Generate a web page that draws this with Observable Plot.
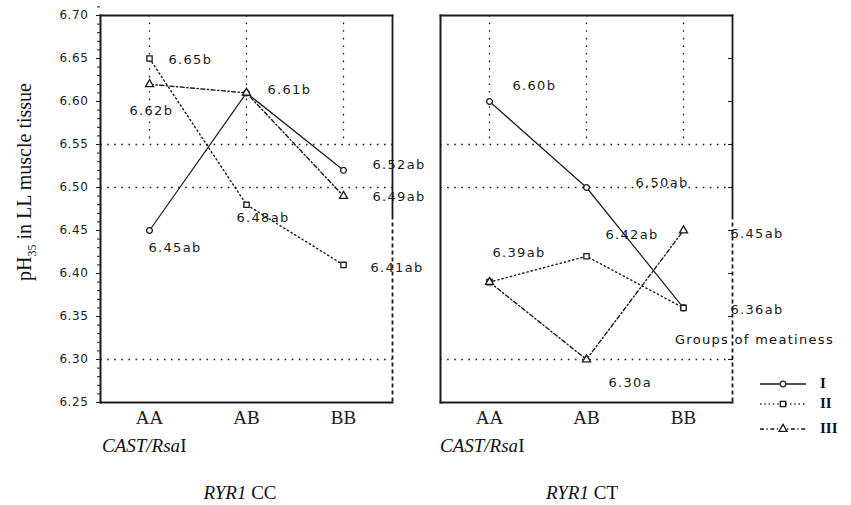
<!DOCTYPE html>
<html>
<head>
<meta charset="utf-8">
<script src="https://cdn.jsdelivr.net/npm/d3@7"></script>
<script src="https://cdn.jsdelivr.net/npm/@observablehq/plot@0.6"></script>
<style>
  body { margin: 0; background: #fff; }
  #wrap { position: relative; width: 851px; height: 505px; overflow: hidden; color: #111; font-family: "Liberation Serif", serif; }
  #chart { position: absolute; left: 0; top: 0; }
  .ser { position: absolute; font-family: "Liberation Serif", serif; font-size: 19px; line-height: 19px; white-space: nowrap; }
  .pix { position: absolute; font-family: "DejaVu Sans", sans-serif; letter-spacing: 1.3px; white-space: nowrap; }
  #chart g[aria-label="text"] text { letter-spacing: 1.3px; }
  #chart g[aria-label="y-axis tick label"] text { letter-spacing: 0.6px; }
  .leg { position: absolute; left: 758px; height: 14px; }
  .leg svg { position: absolute; left: 0; top: 0; }
  .leg span { position: absolute; left: 62px; top: -3px; font-family: "Liberation Serif", serif; font-weight: bold; font-size: 15px; line-height: 18px; }
</style>
</head>
<body>
<div id="wrap">
  <div id="chart"></div>
  <div id="ylab" class="ser" style="left:24px;top:182px;font-size:20px;line-height:22px;transform:translate(-50%,-50%) rotate(-90deg);">pH<sub style="font-size:12px;line-height:0">35</sub> in LL muscle tissue</div>
  <div class="ser" style="left:102px;top:436px;"><i>CAST/Rsa</i>I</div>
  <div class="ser" style="left:440px;top:436px;"><i>CAST/Rsa</i>I</div>
  <div class="ser" style="left:240px;top:483px;transform:translateX(-50%);"><i>RYR1</i> CC</div>
  <div class="ser" style="left:582px;top:483px;transform:translateX(-50%);"><i>RYR1</i> CT</div>
  <div class="pix" style="left:675px;top:332px;font-size:13px;">Groups of meatiness</div>
  <div id="legend"></div>
</div>
<script>
// ---- data ----
const genotypes = ["AA", "AB", "BB"];
const panels = ["CC", "CT"];
const groups = ["I", "II", "III"];

// pH35 means by CAST/RsaI genotype, RYR1 CC panel
const ccI   = [6.45, 6.61, 6.52];
const ccII  = [6.65, 6.48, 6.41];
const ccIII = [6.62, 6.61, 6.49];
// RYR1 CT panel
const ctI   = [6.60, 6.50, 6.36];
const ctII  = [6.39, 6.42, 6.36];
const ctIII = [6.39, 6.30, 6.45];

// significance letters (null = label shared with an overlapping point)
const ccIsig   = ["ab", "b", "ab"];
const ccIIsig  = ["b", "ab", "ab"];
const ccIIIsig = ["b", null, "ab"];
const ctIsig   = ["b", "ab", "ab"];
const ctIIsig  = ["ab", "ab", null];
const ctIIIsig = [null, "a", "ab"];

const yTicks = [6.70, 6.65, 6.60, 6.55, 6.50, 6.45, 6.40, 6.35, 6.30, 6.25];
const gridValues = [6.55, 6.50, 6.30];

// ---- build table ----
const series = {
  CC: {I: [ccI, ccIsig], II: [ccII, ccIIsig], III: [ccIII, ccIIIsig]},
  CT: {I: [ctI, ctIsig], II: [ctII, ctIIsig], III: [ctIII, ctIIIsig]}
};
const rows = [];
for (const p of panels) for (const g of groups) {
  const [vals, sig] = series[p][g];
  genotypes.forEach((gt, i) => rows.push({panel: p, group: g, genotype: gt, value: vals[i], sig: sig[i]}));
}

// label placement (pixel nudges relative to the point)
const nudge = {
  "CC I AA": [-1, 17],  "CC I AB": [21, -3],  "CC I BB": [29, -5],
  "CC II AA": [19, 1],  "CC II AB": [-10, 13], "CC II BB": [27, 3],
  "CC III AA": [-20, 27], "CC III BB": [29, 1],
  "CT I AA": [23, -16], "CT I AB": [49, -5], "CT I BB": [47, 2],
  "CT II AA": [3, -29], "CT II AB": [19, -21],
  "CT III AB": [22, 23], "CT III BB": [47, 3]
};

const lineStyle = {
  I:   {strokeDasharray: null, symbol: "circle", r: 2.9},
  II:  {strokeDasharray: "1.3,3", symbol: "square", r: 3.0},
  III: {strokeDasharray: "4,2.5,1.3,2.5", symbol: "triangle", r: 3.0}
};

const ink = "#1a1a1a";
const minorTicks = d3.range(625, 701).map(d => d / 100);

// right edge: solid top part, dotted lower part
const edgeDash = [203, 5];
while (edgeDash.reduce((a, b) => a + b, 0) < 420) edgeDash.push(2, 5);

const marks = [
  Plot.ruleY(gridValues, {stroke: ink, strokeWidth: 1.3, strokeDasharray: "1.6,5.5"}),
  Plot.ruleX(genotypes, {x: d => d, y1: 6.70, y2: 6.55, stroke: ink, strokeWidth: 1.3, strokeDasharray: "1.6,6"}),
  Plot.frame({anchor: "top", stroke: ink, strokeWidth: 2}),
  Plot.frame({anchor: "left", stroke: ink, strokeWidth: 2}),
  Plot.frame({anchor: "bottom", stroke: ink, strokeWidth: 2}),
  Plot.frame({anchor: "right", stroke: ink, strokeWidth: 1.8, strokeDasharray: edgeDash.join(",")}),
  Plot.axisY({ticks: yTicks, tickFormat: d => d.toFixed(2), tickSize: 4, tickPadding: 8,
              fontSize: 12, fontFamily: "DejaVu Sans", label: null}),
  Plot.axisY({ticks: minorTicks, tickFormat: () => "", tickSize: 3, label: null}),
  Plot.axisY({anchor: "right", ticks: yTicks, tickFormat: () => "", tickSize: 5, dx: -5, label: null}),
  Plot.axisX({tickSize: 0, tickPadding: 8, fontSize: 19, fontFamily: "Liberation Serif", label: null})
];

for (const g of groups) {
  const s = lineStyle[g];
  const data = rows.filter(d => d.group === g);
  marks.push(Plot.line(data, {fx: "panel", x: "genotype", y: "value", stroke: ink,
    strokeWidth: g === "I" ? 1.2 : 1.4, strokeDasharray: s.strokeDasharray}));
}
for (const g of groups) {
  const s = lineStyle[g];
  const data = rows.filter(d => d.group === g);
  marks.push(Plot.dot(data, {fx: "panel", x: "genotype", y: "value", symbol: () => s.symbol, r: s.r,
    stroke: ink, strokeWidth: 1.3, fill: "white"}));
}
for (const d of rows.filter(r => r.sig != null)) {
  const [dx, dy] = nudge[`${d.panel} ${d.group} ${d.genotype}`];
  marks.push(Plot.text([d], {fx: "panel", x: "genotype", y: "value",
    text: r => r.value.toFixed(2) + r.sig, dx, dy, textAnchor: "start",
    fontSize: 13, fontFamily: "DejaVu Sans", fill: ink}));
}

const chart = Plot.plot({
  width: 851,
  height: 430,
  marginLeft: 100,
  marginRight: 119,
  marginTop: 15,
  marginBottom: 28,
  style: {background: "transparent", overflow: "visible", fontFamily: "DejaVu Sans", fontSize: "12px", color: ink},
  fx: {domain: panels, axis: null, paddingInner: 0.1412, paddingOuter: 0, round: false},
  x: {type: "point", domain: genotypes, padding: 0.49},
  y: {domain: [6.25, 6.70], axis: null},
  marks
});
document.getElementById("chart").appendChild(chart);

// ---- legend ----
const legend = document.getElementById("legend");
const legendTops = {I: 377, II: 397, III: 422};
for (const g of groups) {
  const s = lineStyle[g];
  const sym = d3.symbol(g === "I" ? d3.symbolCircle : g === "II" ? d3.symbolSquare : d3.symbolTriangle, Math.PI * s.r * s.r)();
  const div = document.createElement("div");
  div.className = "leg";
  div.style.top = legendTops[g] + "px";
  div.innerHTML = `<svg width="50" height="14"><line x1="2" x2="48" y1="7" y2="7" stroke="${ink}" stroke-width="1.3" ${s.strokeDasharray ? `stroke-dasharray="${s.strokeDasharray}"` : ""}/><path d="${sym}" transform="translate(25,7)" fill="white" stroke="${ink}" stroke-width="1.3"/></svg><span>${g}</span>`;
  legend.appendChild(div);
}
</script>
</body>
</html>
